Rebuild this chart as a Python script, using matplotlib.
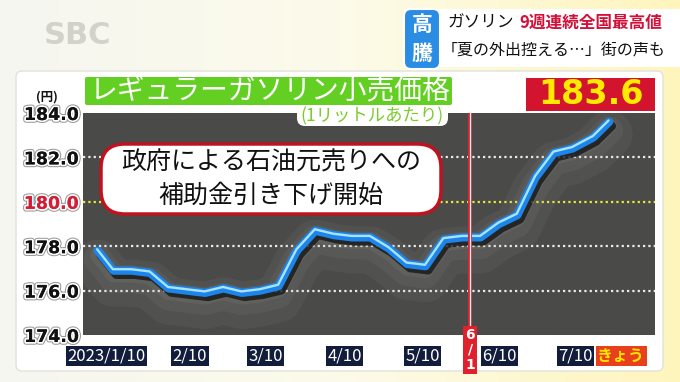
import numpy as np
import pandas as pd
import matplotlib
matplotlib.use('Agg')
import matplotlib.pyplot as plt
import matplotlib.patheffects as pe
from matplotlib.patches import FancyBboxPatch, Rectangle
from matplotlib.colors import LinearSegmentedColormap
from matplotlib.transforms import ScaledTranslation, blended_transform_factory

plt.rcParams['font.family'] = ['Noto Sans CJK JP', 'DejaVu Sans']

# weekly survey dates and regular gasoline retail price (yen per litre)
dates = ['2023-01-10', '2023-01-16', '2023-01-23', '2023-01-30', '2023-02-06',
         '2023-02-13', '2023-02-20', '2023-02-27', '2023-03-06', '2023-03-13',
         '2023-03-20', '2023-03-27', '2023-04-03', '2023-04-10', '2023-04-17',
         '2023-04-24', '2023-05-01', '2023-05-08', '2023-05-15', '2023-05-22',
         '2023-05-29', '2023-06-05', '2023-06-12', '2023-06-19', '2023-06-26',
         '2023-07-03', '2023-07-10', '2023-07-18', '2023-07-24']
prices = [177.8, 176.9, 176.9, 176.8, 176.1, 176.0, 175.9, 176.1, 175.9, 176.0,
          176.2, 177.8, 178.7, 178.5, 178.4, 178.4, 177.9, 177.2, 177.1, 178.3,
          178.4, 178.4, 179.0, 179.4, 181.1, 182.2, 182.4, 182.9, 183.6]

tick_dates = ['2023-01-10', '2023-02-10', '2023-03-10', '2023-04-10',
              '2023-05-10', '2023-06-10', '2023-07-10']
tick_labels = ['2023/1/10', '2/10', '3/10', '4/10', '5/10', '6/10', '7/10']
label_shift = [9, 11, 13, 11, 10, 6, 3]   # px, label boxes sit a little right of the date
y_ticks = [174, 176, 178, 180, 182, 184]
grid_levels = [176, 178, 180, 182]
subsidy_date = '2023-06-01'
latest = '183.6'

x = pd.to_datetime(dates)
W, H = 680, 382
fig = plt.figure(figsize=(W / 100, H / 100), dpi=100)

# background layer (pixel coordinates)
bg = fig.add_axes([0, 0, 1, 1], zorder=0)
bg.set_xlim(0, W)
bg.set_ylim(H, 0)
bg.axis('off')
cmap = LinearSegmentedColormap.from_list('bg', ['#f6f6f1', '#fcfbea', '#fff5bd'])
bg.imshow(np.linspace(0, 1, 256)[None, :], extent=(0, W, H, 0), aspect='auto', cmap=cmap)
bg.add_patch(FancyBboxPatch((16, 71), 647, 300, boxstyle='round,pad=0,rounding_size=6',
                            fc='white', ec='#e2e2da', lw=1))
bg.text(78, 36, 'SBC', fontsize=22, fontweight='bold', color='#d2d2cb',
        family='DejaVu Sans', ha='center', va='center')

# chart
ax = fig.add_axes([83 / W, (H - 335) / H, 572 / W, 222 / H], zorder=2)
ax.set_facecolor('#4a4a48')
for s in ax.spines.values():
    s.set_visible(False)
t0 = pd.Timestamp(dates[0])
ax.set_xlim(t0 - pd.Timedelta(days=5.6), t0 + pd.Timedelta(days=212.5))
ax.set_ylim(174, 184)

for lv in grid_levels:
    ax.axhline(lv, color='#e9e93a' if lv == 180 else '#ececec', lw=1.6,
               ls=(0, (1, 1.4)), zorder=1)

ax.plot(x, prices, color='#1d84ea', lw=6, solid_capstyle='round', solid_joinstyle='round',
        zorder=4,
        path_effects=[pe.SimpleLineShadow(offset=(0, -9), shadow_color='#a8a8a2', alpha=0.08, linewidth=34),
                      pe.SimpleLineShadow(offset=(0, -6), shadow_color='#a8a8a2', alpha=0.09, linewidth=20),
                      pe.SimpleLineShadow(offset=(0, -3), shadow_color='#a8a8a2', alpha=0.10, linewidth=11),
                      pe.SimpleLineShadow(offset=(2, -3), shadow_color='#111111', alpha=0.75, linewidth=6),
                      pe.Normal()])
hl = ax.transData + ScaledTranslation(-0.4 / 72, 1.0 / 72, fig.dpi_scale_trans)
ax.plot(x, prices, color='#a6e4ff', lw=1.7, solid_capstyle='round', transform=hl, zorder=5)

# subsidy cut marker
sd = pd.Timestamp(subsidy_date)
ax.axvline(sd, color='#e0202c', lw=3, zorder=6)
ax.axvline(sd, color='white', lw=0.9, zorder=6)
xa = blended_transform_factory(ax.transData, ax.transAxes)
ax.text(sd, -0.066, '6\n/\n1', transform=xa, ha='center', va='center', color='white',
        fontsize=10, fontweight='bold', linespacing=1.1, family='DejaVu Sans', zorder=7,
        clip_on=False, bbox=dict(boxstyle='square,pad=0.14', fc='#e0202c', ec='none'))

# y axis labels
ax.set_yticks(y_ticks)
ax.set_yticklabels([f'{v:.1f}' for v in y_ticks])
ax.tick_params(axis='y', length=0, pad=3)
ax.set_xticks([])
for lab, v in zip(ax.get_yticklabels(), y_ticks):
    lab.set_fontsize(12.5)
    lab.set_fontweight('bold')
    lab.set_family('DejaVu Sans')
    lab.set_color('#d21f38' if v == 180 else '#111111')
    lab.set_path_effects([pe.withStroke(linewidth=4, foreground='#9a9a9a'),
                          pe.withStroke(linewidth=2.5, foreground='white'), pe.Normal()])

# x axis labels in dark boxes
for d, lab, sh in zip(tick_dates, tick_labels, label_shift):
    ax.text(pd.Timestamp(d), -0.095, lab,
            transform=xa + ScaledTranslation(sh / 100, 0, fig.dpi_scale_trans),
            ha='center', va='center', color='white', fontsize=12, clip_on=False,
            bbox=dict(boxstyle='square,pad=0.08', fc='#111d3b', ec='none'))
ax.text(x[-1], -0.095, 'きょう', transform=xa + ScaledTranslation(12 / 100, 0, fig.dpi_scale_trans),
        ha='center', va='center', color='#ffe500', fontsize=11.5, fontweight='bold', clip_on=False,
        bbox=dict(boxstyle='square,pad=0.1', fc='#e8401c', ec='none'))

# overlay layer for titles and callouts (pixel coordinates)
ov = fig.add_axes([0, 0, 1, 1], zorder=3)
ov.set_xlim(0, W)
ov.set_ylim(H, 0)
ov.axis('off')
ov.patch.set_alpha(0)

ov.add_patch(FancyBboxPatch((85, 77), 367, 28, boxstyle='round,pad=0,rounding_size=2',
                            fc='#63cf22', ec='none'))
ov.text(90, 91.5, 'レギュラーガソリン小売価格', fontsize=20, color='white', ha='left', va='center')
ov.add_patch(FancyBboxPatch((297, 106), 151, 20, boxstyle='round,pad=0,rounding_size=8',
                            fc='white', ec='none'))
ov.text(372, 116, '(1リットルあたり)', fontsize=12.5, color='#7ccb2c', ha='center', va='center')

ov.add_patch(Rectangle((526, 78), 129, 33, fc='#d3142e', ec='none'))
ov.text(590.5, 95, latest, fontsize=24, fontweight='bold', color='#ffea00', family='DejaVu Sans',
        ha='center', va='center')

ov.text(47, 97, '(円)', fontsize=9, fontweight='bold', color='#111111', ha='center', va='center')

ov.add_patch(FancyBboxPatch((101, 144), 340, 70, boxstyle='round,pad=0,rounding_size=24',
                            fc='white', ec='#c0121f', lw=2.5))
ov.text(271, 162, '政府による石油元売りへの', fontsize=18, color='#111111', ha='center', va='center')
ov.text(271, 196, '補助金引き下げ開始', fontsize=18, color='#111111', ha='center', va='center')

# headline
ov.add_patch(FancyBboxPatch((404, 9), 36, 60, boxstyle='round,pad=0,rounding_size=7',
                            fc='#2b8ce4', ec='white', lw=1.5))
ov.text(422, 24, '高', fontsize=15, fontweight='bold', color='white', ha='center', va='center')
ov.text(422, 53, '騰', fontsize=15, fontweight='bold', color='white', ha='center', va='center')
ov.add_patch(Rectangle((440, 9), 240, 58, fc='white', ec='none'))
ov.text(448, 23, 'ガソリン', fontsize=12, color='#111111', ha='left', va='center')
ov.text(519, 23, '9週連続全国最高値', fontsize=12, fontweight='bold', color='#d2103a',
        ha='left', va='center')
ov.text(442, 50, '「夏の外出控える…」街の声も', fontsize=11.5, color='#111111', ha='left', va='center')

fig.savefig('out.png', dpi=100)
